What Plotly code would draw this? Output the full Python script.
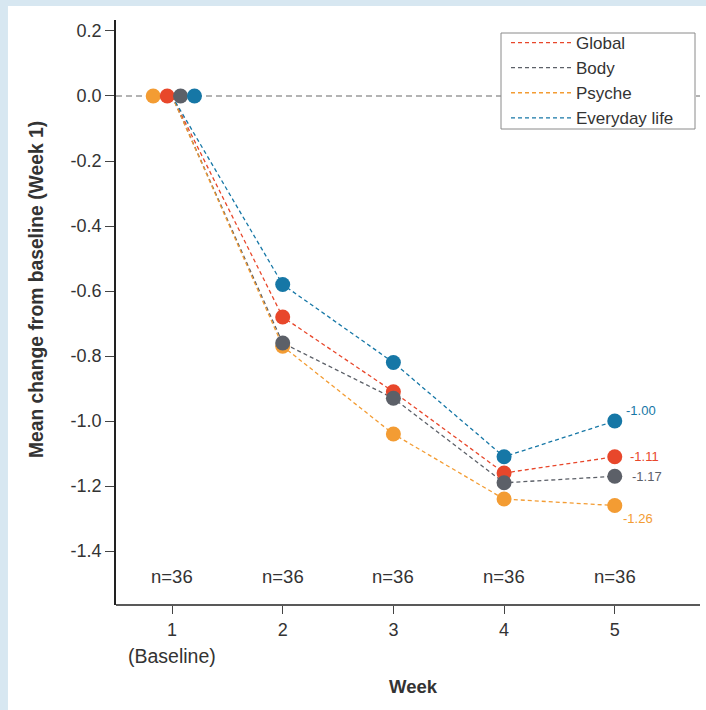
import plotly.graph_objects as go

weeks = [1, 2, 3, 4, 5]
tick_labels = ["1", "2", "3", "4", "5"]
series_names = ["Global", "Body", "Psyche", "Everyday life"]
global_vals = [0.0, -0.68, -0.91, -1.16, -1.11]
body_vals = [0.0, -0.76, -0.93, -1.19, -1.17]
psyche_vals = [0.0, -0.77, -1.04, -1.24, -1.26]
everyday_vals = [0.0, -0.58, -0.82, -1.11, -1.00]
n_labels = ["n=36", "n=36", "n=36", "n=36", "n=36"]

colors = {"Global": "#e8472b", "Body": "#5c6068", "Psyche": "#f39c33", "Everyday life": "#1677a6"}
values = {"Global": global_vals, "Body": body_vals, "Psyche": psyche_vals, "Everyday life": everyday_vals}
# baseline marker jitter (drawing order left to right: Psyche, Global, Body, Everyday life)
jitter = {"Psyche": -0.17, "Global": -0.043, "Body": 0.077, "Everyday life": 0.203}
end_label_pos = {"Global": (13, 0), "Body": (15, 0), "Psyche": (6, -13), "Everyday life": (9, 11)}

FONT = "Liberation Sans, Arial, Helvetica, sans-serif"
TXT = "#333333"

fig = go.Figure()

# dashed lines (legend entries)
for name in series_names:
    fig.add_trace(go.Scatter(
        x=weeks, y=values[name], mode="lines", name=name,
        line=dict(color=colors[name], width=1.3, dash="4px,3px"),
        hoverinfo="skip"))

# markers
for name in ["Psyche", "Global", "Body", "Everyday life"]:
    xs = [w + (jitter[name] if w == 1 else 0) for w in weeks]
    fig.add_trace(go.Scatter(
        x=xs, y=values[name], mode="markers", showlegend=False,
        marker=dict(color=colors[name], size=15, line=dict(width=0))))

annotations = []
for name in series_names:
    dx, dy = end_label_pos[name]
    v = values[name][-1]
    annotations.append(dict(x=weeks[-1], y=v, xref="x", yref="y", text=f"{v:.2f}",
                            showarrow=False, xshift=dx, yshift=dy, xanchor="left", yanchor="middle",
                            font=dict(family=FONT, size=13, color=colors[name])))
for w, lab in zip(weeks, n_labels):
    annotations.append(dict(x=w, y=-1.477, xref="x", yref="y", text=lab, showarrow=False,
                            xanchor="center", yanchor="middle",
                            font=dict(family=FONT, size=18.5, color=TXT)))
annotations.append(dict(x=1, y=-0.0816, xref="x", yref="paper", text="(Baseline)", showarrow=False,
                        xanchor="center", yanchor="middle",
                        font=dict(family=FONT, size=19.5, color=TXT)))
annotations.append(dict(x=0.509, y=-0.1327, xref="paper", yref="paper", text="<b>Week</b>", showarrow=False,
                        xanchor="center", yanchor="middle",
                        font=dict(family=FONT, size=18.5, color=TXT)))
annotations.append(dict(x=-0.135, y=0.541, xref="paper", yref="paper",
                        text="<b>Mean change from baseline (Week 1)</b>", showarrow=False, textangle=-90,
                        xanchor="center", yanchor="middle",
                        font=dict(family=FONT, size=19.3, color=TXT)))

# legend box in paper coordinates (pixel box 501..695 x 33..129)
def px_x(p):
    return (p - 116) / 584

def px_y(p):
    return (608 - p) / 588

shapes = [
    # white card over light-blue background
    dict(type="rect", xref="paper", yref="paper", x0=-0.185, x1=1.2, y0=-0.4, y1=1.0238,
         fillcolor="white", line=dict(width=0), layer="below"),
    # zero reference line
    dict(type="line", xref="x domain", yref="y", x0=0, x1=1, y0=0, y1=0,
         line=dict(color="#9a9a9a", width=1.5, dash="6px,4px"), layer="below"),
    # x-axis line (ticks are slightly detached below it)
    dict(type="line", xref="x domain", yref="y domain", x0=0, x1=1, y0=0, y1=0,
         line=dict(color="#222222", width=1.5)),
    # legend frame
    dict(type="rect", xref="paper", yref="paper", x0=px_x(501), x1=px_x(695), y0=px_y(129), y1=px_y(33),
         fillcolor="white", line=dict(color="#8a8a8a", width=1), layer="above"),
]

fig.update_layout(
    width=706, height=710,
    margin=dict(l=116, r=6, t=20, b=102),
    paper_bgcolor="#d7e7f1", plot_bgcolor="rgba(0,0,0,0)",
    font=dict(family=FONT, size=14, color=TXT),
    showlegend=True,
    legend=dict(x=px_x(506), y=px_y(25), xanchor="left", yanchor="top",
                bgcolor="rgba(0,0,0,0)", borderwidth=0,
                font=dict(family=FONT, size=17, color=TXT),
                itemwidth=60, tracegroupgap=0),
    xaxis=dict(range=[0.494, 5.77], tickvals=weeks, ticktext=tick_labels,
               showgrid=False, zeroline=False, showline=False,
               ticks="outside", ticklen=8, tickcolor="#444", tickwidth=1,
               tickfont=dict(family=FONT, size=18, color=TXT)),
    yaxis=dict(range=[-1.566, 0.2338], domain=[0.0051, 1],
               tickvals=[0.2, 0.0, -0.2, -0.4, -0.6, -0.8, -1.0, -1.2, -1.4],
               ticktext=["0.2", "0.0", "-0.2", "-0.4", "-0.6", "-0.8", "-1.0", "-1.2", "-1.4"],
               showgrid=False, zeroline=False, showline=True, linecolor="#222222", linewidth=1.5,
               ticks="outside", ticklen=9, tickcolor="#444", tickwidth=1,
               tickfont=dict(family=FONT, size=18, color=TXT)),
    annotations=annotations,
    shapes=shapes,
)

fig.write_html("out.html", config={"displayModeBar": False},
               post_script="document.body.style.margin='0px';document.body.style.padding='0px';")
